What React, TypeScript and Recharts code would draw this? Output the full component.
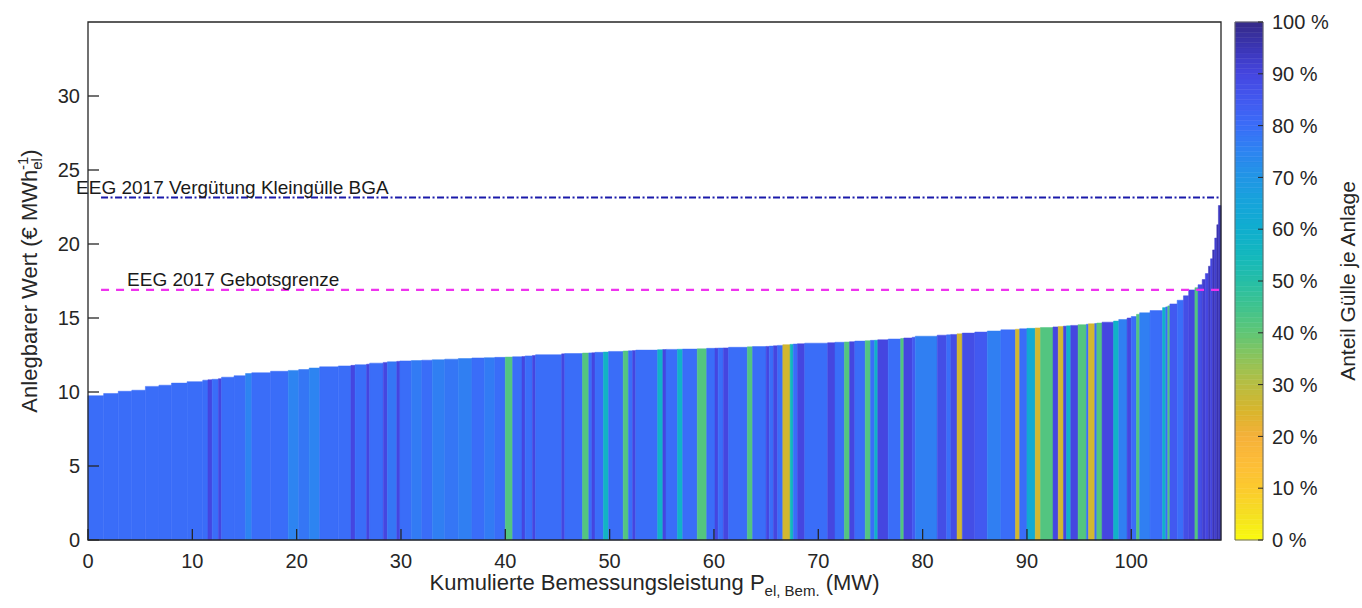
import React from 'react';
import { ComposedChart, XAxis, YAxis, Line, ReferenceArea, ReferenceLine } from 'recharts';

// right edge (cumulative MW) of each block of plants, sorted by value
const blockEndMW = [
  1.5, 2.9, 4.2, 5.5, 6.8, 8.0, 9.5, 11.0, 11.5, 11.9, 12.5, 12.8, 14.0, 15.1, 15.7, 17.5, 19.2, 20.2, 21.2, 22.2,
  24.0, 25.2, 25.6, 26.7, 27.0, 28.3, 28.7, 29.6, 29.9, 31.0, 32.0, 33.0, 34.2, 35.5, 36.8, 38.0, 39.0, 40.0, 40.7, 41.6,
  41.9, 42.6, 42.9, 45.4, 45.7, 47.4, 48.0, 48.3, 48.6, 49.4, 49.9, 51.3, 51.8, 52.2, 52.5, 54.6, 55.1, 55.4, 56.5, 57.0,
  58.4, 59.3, 60.1, 60.4, 60.9, 61.4, 63.2, 63.7, 65.0, 65.3, 65.7, 66.1, 66.6, 67.3, 67.6, 68.0, 68.7, 70.9, 71.6, 72.5,
  73.0, 73.5, 74.5, 75.0, 75.4, 75.7, 76.7, 77.9, 78.2, 79.0, 79.3, 81.4, 82.3, 82.7, 83.3, 83.8, 85.0, 86.2, 87.5, 88.9,
  89.3, 90.0, 90.8, 91.3, 92.5, 93.0, 93.5, 93.8, 94.2, 94.9, 95.7, 95.9, 96.5, 96.7, 97.2, 98.3, 98.8, 99.6, 100.0, 100.5,
  100.8, 101.8, 103.0, 103.3, 103.5, 103.7, 104.4, 105.0, 105.5, 106.1, 106.4, 106.8, 107.1, 107.4, 107.6, 107.8, 108.0, 108.2,
  108.35, 108.6,
];

// anlegbarer Wert per block (€ MWh_el^-1)
const blockValue = [
  9.75, 9.9, 10.05, 10.12, 10.38, 10.46, 10.6, 10.7, 10.8, 10.83, 10.86, 10.9, 11.0, 11.1, 11.25, 11.3, 11.4, 11.46, 11.52, 11.62,
  11.7, 11.76, 11.8, 11.84, 11.88, 11.95, 12.0, 12.04, 12.07, 12.1, 12.12, 12.15, 12.18, 12.22, 12.26, 12.3, 12.32, 12.34, 12.36, 12.38,
  12.4, 12.44, 12.47, 12.52, 12.58, 12.6, 12.63, 12.64, 12.65, 12.68, 12.7, 12.74, 12.77, 12.78, 12.8, 12.83, 12.86, 12.87, 12.88, 12.89,
  12.9, 12.92, 12.95, 12.96, 12.97, 12.98, 13.02, 13.05, 13.07, 13.08, 13.1, 13.12, 13.15, 13.2, 13.22, 13.24, 13.26, 13.3, 13.33, 13.36,
  13.38, 13.4, 13.44, 13.47, 13.49, 13.5, 13.53, 13.58, 13.62, 13.65, 13.7, 13.77, 13.84, 13.86, 13.89, 13.93, 13.98, 14.05, 14.12, 14.2,
  14.24, 14.27, 14.3, 14.33, 14.36, 14.4, 14.43, 14.45, 14.47, 14.5, 14.55, 14.58, 14.61, 14.63, 14.66, 14.72, 14.79, 14.9, 15.0, 15.1,
  15.25, 15.35, 15.5, 15.7, 15.75, 15.82, 15.95, 16.2, 16.5, 16.9, 17.05, 17.25, 17.6, 18.0, 18.5, 19.0, 19.6, 20.4,
  21.3, 22.6,
];

// Anteil Gülle je Anlage (%)
const blockShare = [
  80, 80, 80, 80, 80, 80, 80, 80, 80, 90, 80, 90, 80, 80, 75, 80, 80, 75, 78, 75,
  80, 80, 90, 80, 90, 80, 90, 78, 90, 80, 77, 80, 76, 78, 76, 80, 77, 80, 42, 80,
  90, 80, 90, 80, 90, 80, 42, 80, 90, 80, 57, 80, 42, 80, 90, 80, 58, 90, 80, 58,
  80, 42, 80, 90, 80, 90, 80, 42, 80, 90, 80, 90, 80, 26, 55, 80, 90, 80, 90, 80,
  42, 90, 80, 42, 80, 58, 90, 80, 42, 90, 85, 76, 88, 80, 88, 26, 88, 85, 76, 80,
  26, 80, 62, 26, 42, 90, 26, 90, 58, 90, 42, 80, 26, 80, 42, 90, 58, 76, 90, 80,
  42, 76, 80, 58, 80, 42, 85, 80, 88, 90, 42, 88, 92, 90, 94, 90, 95, 92,
  96, 94,
];

const xTicks = [0, 10, 20, 30, 40, 50, 60, 70, 80, 90, 100];
const yTicks = [0, 5, 10, 15, 20, 25, 30];
const shareTicks = [0, 10, 20, 30, 40, 50, 60, 70, 80, 90, 100];

const EEG_KLEINGUELLE = 23.14;
const EEG_GEBOTSGRENZE = 16.9;
const X_MAX = 108.6;
const Y_MAX = 35;

const FONT = '"Liberation Sans", Arial, Helvetica, sans-serif';
const INK = '#262626';

// parula-like colormap, reversed (0 % yellow, 100 % dark blue), stops every 5 %
const CMAP = [
  '#f9fb0e', '#f5df22', '#fcca2e', '#fdbd38', '#f5b13a', '#d8b52c', '#b8bd42', '#8ec45a', '#60c676', '#40c38e',
  '#26bea6', '#13b8bd', '#10aecf', '#16a4da', '#2196e5', '#2d84f1', '#3a6df8', '#4259f0', '#4546e0', '#3b35b5', '#352a87',
];

const hex = (c: string) => [1, 3, 5].map(i => parseInt(c.slice(i, i + 2), 16));

function shareColor(share: number) {
  const t = Math.max(0, Math.min(100, share)) / 5;
  const i = Math.min(Math.floor(t), CMAP.length - 2);
  const f = t - i;
  const a = hex(CMAP[i]);
  const b = hex(CMAP[i + 1]);
  const rgb = a.map((v, k) => Math.round(v + (b[k] - v) * f));
  return `rgb(${rgb.join(',')})`;
}

const blocks = blockEndMW.map((end, i) => ({
  x: i === 0 ? 0 : blockEndMW[i - 1],
  end,
  v: blockValue[i],
  share: blockShare[i],
}));

const cbLevels = Array.from({ length: 100 }, (_, i) => i);

const XTick = ({ x, y, payload }: any) => (
  <g>
    <line x1={x} y1={y} x2={x} y2={y - 11} stroke={INK} strokeWidth={1.3} />
    <text x={x} y={y + 28} textAnchor="middle" fontSize={20} fill={INK} fontFamily={FONT}>
      {payload.value}
    </text>
  </g>
);

const YTick = ({ x, y, payload }: any) => (
  <g>
    <line x1={x} y1={y} x2={x + 11} y2={y} stroke={INK} strokeWidth={1.3} />
    <text x={x - 8} y={y} dy="0.36em" textAnchor="end" fontSize={20} fill={INK} fontFamily={FONT}>
      {payload.value}
    </text>
  </g>
);

const CbTick = ({ x, y, payload }: any) => (
  <g>
    <line x1={x - 5} y1={y} x2={x} y2={y} stroke={INK} strokeWidth={1} />
    <text x={x + 9} y={y} dy="0.36em" textAnchor="start" fontSize={20} fill={INK} fontFamily={FONT}>
      {`${payload.value} %`}
    </text>
  </g>
);

const XLabel = ({ viewBox }: any) => {
  const cx = viewBox.x + viewBox.width / 2;
  return (
    <text x={cx} y={viewBox.y + 50} textAnchor="middle" fontSize={22} fill={INK} fontFamily={FONT}>
      Kumulierte Bemessungsleistung P
      <tspan fontSize={15} dy={6}>el, Bem.</tspan>
      <tspan dy={-6}>{' (MW)'}</tspan>
    </text>
  );
};

const YLabel = ({ viewBox }: any) => {
  const cx = viewBox.x + 9;
  const cy = viewBox.y + viewBox.height / 2;
  return (
    <text x={cx} y={cy} transform={`rotate(-90 ${cx} ${cy})`} textAnchor="middle" fontSize={22} fill={INK} fontFamily={FONT}>
      Anlegbarer Wert (€ MWh
      <tspan fontSize={15} dy={5}>el</tspan>
      <tspan fontSize={15} dx={-12} dy={-14}>-1</tspan>
      <tspan dy={9}>)</tspan>
    </text>
  );
};

const CbLabel = ({ viewBox }: any) => {
  const cx = viewBox.x + 92;
  const cy = viewBox.y + viewBox.height / 2;
  return (
    <text x={cx} y={cy} transform={`rotate(-90 ${cx} ${cy})`} textAnchor="middle" fontSize={21} fill={INK} fontFamily={FONT}>
      Anteil Gülle je Anlage
    </text>
  );
};

const lineLabel = (text: string, dx: number) => ({ viewBox }: any) => (
  <text x={viewBox.x + dx} y={viewBox.y - 4} fontSize={19} fill="#1a1a1a" fontFamily={FONT}>
    {text}
  </text>
);

export default function App() {
  return (
    <div style={{ position: 'absolute', left: 0, top: 0, width: 1362, height: 608, background: '#fff', fontFamily: FONT }}>
      <div style={{ position: 'absolute', left: 0, top: 0 }}>
        <ComposedChart width={1362} height={608} data={blocks} margin={{ top: 22, right: 141, bottom: 38, left: 28 }}>
          <XAxis
            type="number"
            dataKey="x"
            domain={[0, X_MAX]}
            ticks={xTicks}
            interval={0}
            allowDataOverflow
            height={30}
            axisLine={false}
            tickLine={false}
            tickSize={0}
            tickMargin={0}
            tick={<XTick />}
            label={XLabel}
          />
          <YAxis
            type="number"
            domain={[0, Y_MAX]}
            ticks={yTicks}
            interval={0}
            allowDataOverflow
            width={60}
            axisLine={false}
            tickLine={false}
            tickSize={0}
            tickMargin={0}
            tick={<YTick />}
            label={YLabel}
          />
          {blocks.map((b, i) => (
            <ReferenceArea
              key={`blk-${i}`}
              x1={b.x}
              x2={b.end}
              y1={0}
              y2={b.v}
              fill={shareColor(b.share)}
              fillOpacity={1}
              stroke={shareColor(b.share)}
              strokeWidth={0.5}
            />
          ))}
          <Line dataKey="v" type="stepAfter" stroke="none" dot={false} activeDot={false} isAnimationActive={false} />
          <ReferenceLine
            segment={[{ x: 1.25, y: EEG_KLEINGUELLE }, { x: X_MAX, y: EEG_KLEINGUELLE }]}
            stroke="#1a1aaa"
            strokeWidth={2}
            strokeDasharray="7 2.5 2 2.5"
            label={lineLabel('EEG 2017 Vergütung Kleingülle BGA', -25)}
          />
          <ReferenceLine
            segment={[{ x: 1.25, y: EEG_GEBOTSGRENZE }, { x: X_MAX, y: EEG_GEBOTSGRENZE }]}
            stroke="#ee33ee"
            strokeWidth={2.2}
            strokeDasharray="8 7"
            label={lineLabel('EEG 2017 Gebotsgrenze', 26)}
          />
          <ReferenceArea x1={0} x2={X_MAX} y1={0} y2={Y_MAX} fill="none" fillOpacity={0} stroke={INK} strokeWidth={1.3} />
        </ComposedChart>
      </div>
      <div style={{ position: 'absolute', left: 0, top: 0 }}>
        <ComposedChart width={1362} height={608} data={[{ x: 0, s: 0 }, { x: 1, s: 100 }]} margin={{ top: 22, right: 9, bottom: 68, left: 1235 }}>
          <XAxis type="number" dataKey="x" domain={[0, 1]} hide height={0} />
          <YAxis
            type="number"
            orientation="right"
            domain={[0, 100]}
            ticks={shareTicks}
            interval={0}
            width={90}
            axisLine={false}
            tickLine={false}
            tickSize={0}
            tickMargin={0}
            tick={<CbTick />}
            label={CbLabel}
          />
          {cbLevels.map(s => (
            <ReferenceArea
              key={`cb-${s}`}
              x1={0}
              x2={1}
              y1={s}
              y2={s + 1}
              fill={shareColor(s + 0.5)}
              fillOpacity={1}
              stroke={shareColor(s + 0.5)}
              strokeWidth={0.5}
            />
          ))}
          <Line dataKey="s" stroke="none" dot={false} activeDot={false} isAnimationActive={false} />
          <ReferenceArea x1={0} x2={1} y1={0} y2={100} fill="none" fillOpacity={0} stroke="#6b6b6b" strokeWidth={1} />
        </ComposedChart>
      </div>
    </div>
  );
}
